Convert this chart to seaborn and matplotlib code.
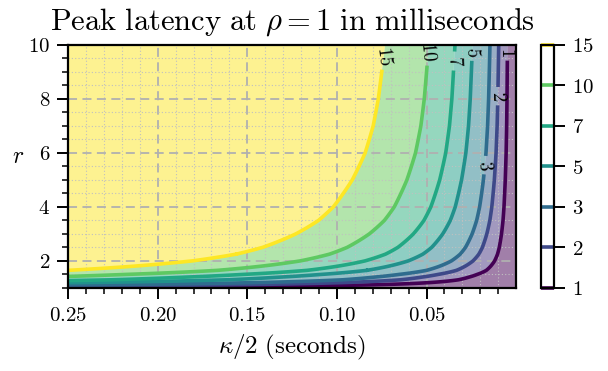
import numpy as np
import matplotlib
matplotlib.use("Agg")
import matplotlib.pyplot as plt
from matplotlib.ticker import FixedLocator, MultipleLocator, FuncFormatter
import seaborn as sns

# ---- data ----
# r values (rows) and the peak latency (ms) read at kappa/2 = 0.05 s on each row
r_rows = [1.0, 1.1, 1.2, 1.3, 1.4, 1.5, 1.65, 1.8, 2.0, 2.25, 2.5,
          3.0, 3.5, 4.0, 5.0, 6.0, 7.0, 8.0, 9.0, 10.0]
latency_at_50ms = [0.0, 0.55, 1.05, 1.55, 1.9, 2.3, 3.0, 3.5, 4.15, 4.8, 5.3,
                   6.1, 6.8, 7.35, 8.2, 8.9, 9.4, 9.75, 10.0, 10.25]
levels = [1, 2, 3, 5, 7, 10, 15]
line_cmap_pos = [0.0, 0.22, 0.35, 0.5, 0.6, 0.75, 1.0]
band_cmap_pos = [0.0, 0.15, 0.30, 0.43, 0.56, 0.64, 0.77, 1.0]
x_ticks = [0.25, 0.20, 0.15, 0.10, 0.05]
y_ticks = [2, 4, 6, 8, 10]
label_pos = [(0.0748, 9.6), (0.049, 9.75), (0.034, 9.4), (0.0245, 9.75),
             (0.0045, 9.75), (0.010, 8.1), (0.018, 5.55)]

sns.set_style("ticks")
plt.rcParams["mathtext.fontset"] = "cm"
plt.rcParams["font.family"] = ["DejaVu Serif"]
for k in ["text.color", "axes.labelcolor", "xtick.color", "ytick.color",
          "axes.edgecolor"]:
    plt.rcParams[k] = "black"

kappa_half = np.linspace(0.0, 0.25, 601)
rr = np.asarray(r_rows)
slope = np.asarray(latency_at_50ms) / 0.05
Z = np.outer(slope, kappa_half)
KX, RY = np.meshgrid(kappa_half, rr)

cmap = sns.color_palette("viridis", as_cmap=True)
line_colors = [cmap(p) for p in line_cmap_pos]
band_colors = [cmap(p) for p in band_cmap_pos]

fig = plt.figure(figsize=(6.08, 3.71), dpi=100)
ax = fig.add_axes([0.112, 0.224, 0.737, 0.655])
cax = fig.add_axes([0.890, 0.224, 0.0214, 0.655])

ax.contourf(KX, RY, Z, levels=levels, colors=band_colors, extend="both",
            alpha=0.5, antialiased=True)
cs = ax.contour(KX, RY, Z, levels=levels, colors=line_colors, linewidths=2.6)
ax.clabel(cs, levels=levels, inline=True, fontsize=13.5, manual=label_pos,
          colors="black", fmt={l: f"${l}$" for l in levels}, inline_spacing=4)

ax.set_xlim(0.25, 0.0)
ax.set_ylim(1, 10)
ax.xaxis.set_major_locator(FixedLocator(x_ticks))
ax.xaxis.set_minor_locator(FixedLocator([i / 100 for i in range(1, 25)]))
ax.yaxis.set_major_locator(FixedLocator(y_ticks))
ax.yaxis.set_minor_locator(MultipleLocator(0.5))
ax.xaxis.set_major_formatter(FuncFormatter(lambda v, p: f"${v:.2f}$"))
ax.yaxis.set_major_formatter(FuncFormatter(lambda v, p: f"${v:.0f}$"))
ax.tick_params(which="major", direction="out", length=8, width=1.4,
               labelsize=15, pad=5)
ax.tick_params(which="minor", direction="out", length=4.5, width=1.1)
ax.grid(which="major", color="#b0b0b0", linestyle=(0, (5, 3)), linewidth=1.3)
ax.grid(which="minor", color="#c0c0c0", linestyle=(0, (1, 2)), linewidth=0.8)
ax.set_axisbelow("line")
for s in ax.spines.values():
    s.set_linewidth(1.6)
    s.set_color("black")

ax.set_title(r"$\mathrm{Peak\ latency\ at\ }\rho=1\mathrm{\ in\ milliseconds}$",
             fontsize=22, pad=11)
ax.set_xlabel(r"$\kappa/2\ \mathrm{(seconds)}$", fontsize=18, labelpad=6)
ax.set_ylabel(r"$r$", fontsize=17, rotation=0, va="center", ha="center")
ax.yaxis.set_label_coords(-0.112, 0.54)

cb = fig.colorbar(cs, cax=cax)
cb.set_ticks(levels)
cb.set_ticklabels([f"${l}$" for l in levels])
cb.ax.tick_params(direction="out", length=8, width=1.4, labelsize=15, pad=5)
cb.outline.set_linewidth(1.6)
cb.outline.set_edgecolor("black")

fig.savefig("out.png", dpi=100)
